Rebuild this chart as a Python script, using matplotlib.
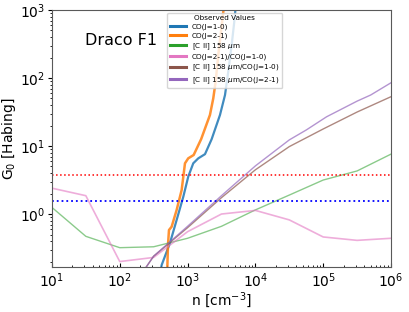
import matplotlib
matplotlib.use("Agg")
import matplotlib.pyplot as plt

# density grid (cm^-3) for the smooth model curves
n_grid = [10, 31.6, 100, 316, 1000, 3162, 1e4, 31623, 1e5, 316228, 1e6]

g_cii = [1.25, 0.47, 0.32, 0.33, 0.44, 0.66, 1.15, 1.9, 3.16, 4.3, 7.6]
g_ratio_co = [2.4, 1.86, 0.2, 0.23, 0.55, 1.0, 1.13, 0.82, 0.46, 0.41, 0.44]

n_cii_co10 = [100, 316, 1000, 3162, 1e4, 31623, 1e5, 316228, 1e6]
g_cii_co10 = [0.045, 0.24, 0.63, 1.74, 4.47, 9.8, 17.8, 31.6, 53.1]

n_cii_co21 = [100, 316, 1000, 3162, 1e4, 31623, 56234, 112202, 316228, 501187, 1e6]
g_cii_co21 = [0.045, 0.24, 0.66, 1.86, 5.1, 12.3, 17.2, 26.9, 45.7, 56.2, 85.1]

n_co10 = [398, 415, 550, 690, 865, 1023, 1213, 1439, 1807, 2265, 3006, 3565,
          3981, 4467, 4887, 5188]
g_co10 = [0.141, 0.178, 0.375, 0.817, 1.795, 3.54, 5.57, 6.59, 7.59, 12.6,
          28.6, 56.2, 124, 305, 673, 1259]

n_co21 = [501, 514, 532, 582, 690, 818, 916, 1023, 1230, 1585, 2138, 2393,
          2594, 2838, 3112, 3365, 3508]
g_co21 = [0.141, 0.347, 0.582, 0.650, 1.146, 2.254, 5.57, 6.59, 7.38, 12.6,
          28.6, 50.2, 88.3, 218, 480, 944, 1413]

g_red = 3.75
g_blue = 1.55

labels = ['CO(J=1-0)', 'CO(J=2-1)', r'[C II] 158 $\mu$m', 'CO(J=2-1)/CO(J=1-0)',
          r'[C II] 158 $\mu$m/CO(J=1-0)', r'[C II] 158 $\mu$m/CO(J=2-1)']

fig = plt.figure(figsize=(4.09, 3.12), dpi=100)
ax = fig.add_axes([0.127, 0.144, 0.829, 0.824])

ax.plot(n_co10, g_co10, color='tab:blue', lw=1.6, alpha=0.85, label=labels[0])
ax.plot(n_co21, g_co21, color='tab:orange', lw=1.8, alpha=0.85, label=labels[1])
ax.plot(n_grid, g_cii, color='tab:green', lw=1.0, alpha=0.55, label=labels[2])
ax.plot(n_grid, g_ratio_co, color='tab:pink', lw=1.2, alpha=0.6, label=labels[3])
ax.plot(n_cii_co10, g_cii_co10, color='tab:brown', lw=1.0, alpha=0.7, label=labels[4])
ax.plot(n_cii_co21, g_cii_co21, color='tab:purple', lw=1.0, alpha=0.7, label=labels[5])

ax.axhline(g_red, color='red', ls=':', lw=1.1)
ax.axhline(g_blue, color='blue', ls=':', lw=1.3)

ax.set_xscale('log')
ax.set_yscale('log')
ax.set_xlim(10, 1e6)
ax.set_ylim(0.166, 1000)

ax.set_xlabel(r'n [cm$^{-3}$]', fontsize=10, labelpad=0)
ax.set_ylabel(r'G$_0$ [Habing]', fontsize=10, labelpad=1)
ax.tick_params(labelsize=10)
ax.tick_params(axis='x', which='both', direction='in')
ax.tick_params(axis='x', which='major', length=3, pad=3)
ax.tick_params(axis='x', which='minor', length=1.5)
ax.tick_params(axis='y', which='major', length=3, pad=2)
ax.tick_params(axis='y', which='minor', length=1.5)

for s in ax.spines.values():
    s.set_color('0.35')

ax.text(0.097, 0.883, 'Draco F1', transform=ax.transAxes, fontsize=11.5,
        va='center', ha='left')

leg = ax.legend(title='Observed Values', loc='upper left',
                bbox_to_anchor=(0.34, 0.99), borderaxespad=0,
                fontsize=5.2, title_fontsize=5.2, labelspacing=0.3,
                handlelength=2.2, borderpad=0.4)
for lh in leg.get_lines():
    lh.set_alpha(1)
    lh.set_linewidth(2.2)

fig.savefig('out.png', dpi=100)
